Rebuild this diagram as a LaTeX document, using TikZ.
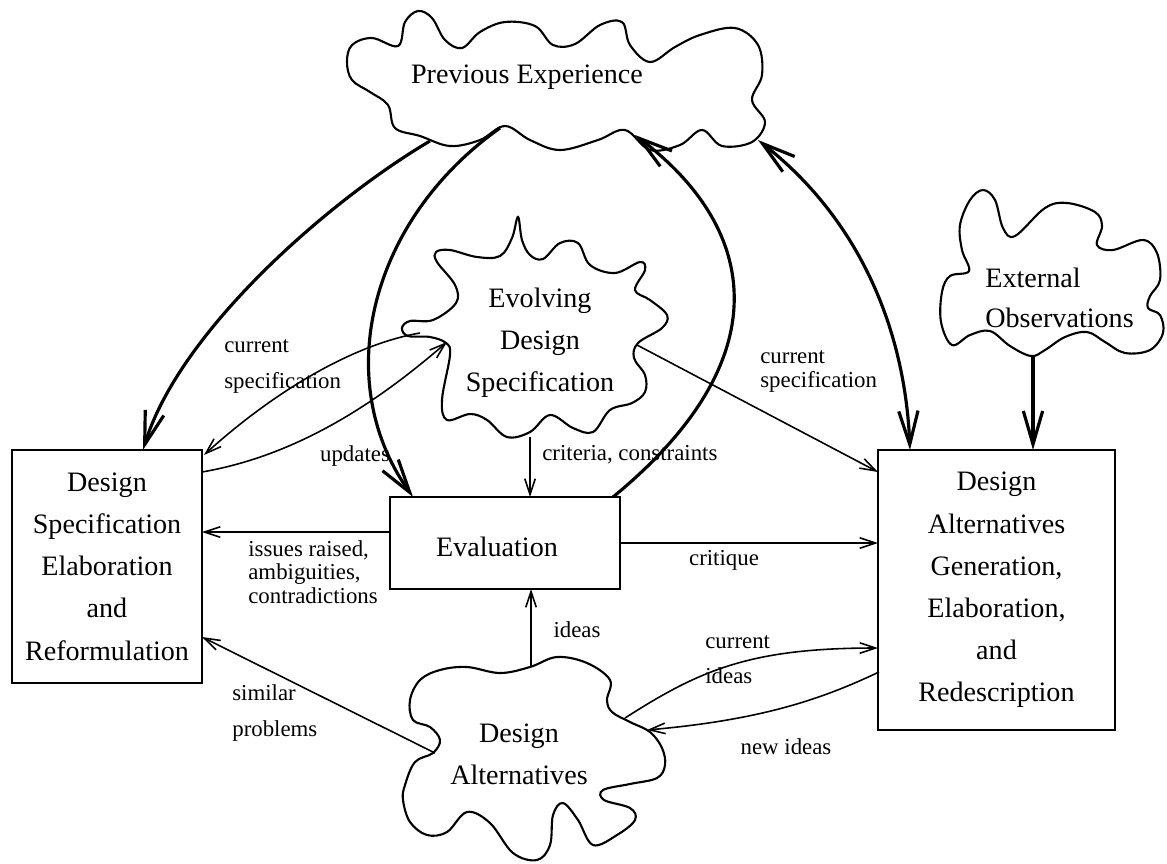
\documentclass[tikz,border=0pt]{standalone}
\usepackage{fontspec}
\setmainfont{Liberation Serif}
\usetikzlibrary{arrows.meta}
\begin{document}
\begin{tikzpicture}[x=0.02cm,y=-0.02cm,
  cloudline/.style={line width=1.2pt},
  boxnode/.style={draw, line width=0.9pt, align=center, inner sep=0pt, font=\fontsize{16}{24}\selectfont},
  txt/.style={align=center, inner sep=0pt, font=\fontsize{16}{24}\selectfont},
  lbl/.style={align=left, inner sep=0pt, font=\fontsize{13}{13.4}\selectfont},
  bigarrow/.style={line width=1.8pt, -{Straight Barb[length=19pt,width=11pt]}},
  bigboth/.style={line width=1.8pt, {Straight Barb[length=19pt,width=11pt]}-{Straight Barb[length=19pt,width=11pt]}},
  smallarrow/.style={line width=0.9pt, -{Straight Barb[length=9pt,width=6pt]}}]
\useasboundingbox (0,0) rectangle (1167,863);

% ---- clouds ----
\draw[cloudline] plot[smooth cycle, tension=0.6] coordinates {
 (347,62) (352,45) (372,38) (398,46) (405,22) (418,11) (432,18) (445,40) (462,48)
 (480,32) (505,22) (535,26) (553,45) (575,44) (600,25) (622,22) (630,45) (650,62)
 (675,47) (700,35) (735,28) (758,45) (762,75) (752,100) (765,122) (752,142) (722,146)
 (702,130) (680,145) (650,150) (625,130) (598,140) (560,150) (530,140) (505,126)
 (480,140) (450,146) (420,136) (395,128) (388,105) (370,92) (352,80)};
\node[txt] (PE) at (527,77) {Previous Experience};

\draw[cloudline] plot[smooth cycle, tension=0.6] coordinates {
 (518,217) (522,240) (530,255) (543,259) (560,243) (578,243) (590,265) (615,273)
 (640,262) (645,270) (635,290) (650,300) (667,315) (662,328) (638,343) (634,358)
 (645,375) (645,392) (632,403) (610,410) (593,432) (573,428) (550,415) (530,432)
 (507,437) (487,420) (470,414) (447,420) (442,400) (450,355) (446,343) (430,337)
 (408,336) (402,328) (410,321) (433,320) (456,303) (455,285) (437,262) (436,252)
 (450,250) (477,257) (500,256) (512,238)};
\node[txt] (EV) at (540,343) {Evolving\\Design\\Specification};

\draw[cloudline] plot[smooth cycle, tension=0.6] coordinates {
 (970,200) (983,190) (995,200) (1003,228) (1015,236) (1045,208) (1067,203) (1095,212)
 (1102,226) (1097,245) (1113,250) (1143,240) (1157,253) (1160,280) (1150,296)
 (1148,308) (1160,315) (1163,333) (1150,350) (1125,353) (1105,342) (1087,332)
 (1065,337) (1045,350) (1031,356) (1010,346) (990,331) (970,335) (952,345) (941,322)
 (942,292) (950,276) (969,271) (962,250) (960,225)};
\node[txt, align=left, anchor=west, font=\fontsize{16}{22.7}\selectfont] (EX) at (985,298) {External\\Observations};

\draw[cloudline] plot[smooth cycle, tension=0.6] coordinates {
 (530,667) (557,657) (587,663) (610,680) (607,700) (612,712) (630,722) (650,732)
 (662,748) (665,765) (657,778) (630,784) (603,790) (604,800) (630,808) (635,820)
 (617,835) (593,845) (578,820) (563,803) (553,815) (550,845) (537,860) (513,853)
 (490,823) (467,812) (447,832) (427,835) (410,822) (403,800) (405,785) (415,762)
 (433,753) (440,740) (430,727) (413,720) (410,700) (420,680) (440,670) (467,667)
 (500,673)};
\node[txt] (DA) at (519,754) {Design\\Alternatives};

% ---- boxes ----
\node[boxnode, minimum width=3.8cm, minimum height=4.66cm] (L) at (107,566.5)
  {Design\\Specification\\Elaboration\\and\\Reformulation};
\node[boxnode, minimum width=4.74cm, minimum height=5.6cm] (R) at (996.5,590)
  {Design\\Alternatives\\Generation,\\Elaboration,\\and\\Redescription};
\node[boxnode, minimum width=4.6cm, minimum height=1.84cm] (E) at (505,543) {};
\node[txt] (Et) at (497,547) {Evaluation};

% ---- connector end points ----
\coordinate (pe1) at (430,141);
\coordinate (pe2) at (500,128);
\coordinate (pe3) at (635,135);
\coordinate (pe4) at (758,140);
\coordinate (ev1) at (420,333);
\coordinate (ev2) at (447,342);
\coordinate (ev3) at (530,437);
\coordinate (ev4) at (637,345);
\coordinate (ex1) at (1033,356);
\coordinate (da1) at (531,667);
\coordinate (da2) at (625,718);
\coordinate (da3) at (647,730);
\coordinate (da4) at (435,753);
\coordinate (Lt1) at (143,450);
\coordinate (Lt2) at (204,455);
\coordinate (Lr1) at (202,472);
\coordinate (Lr2) at (202,532);
\coordinate (Lr3) at (202,637);
\coordinate (Et1) at (413,497);
\coordinate (Et2) at (530,497);
\coordinate (Et3) at (613,497);
\coordinate (El) at (390,532);
\coordinate (Er) at (620,543);
\coordinate (Eb) at (531,589);
\coordinate (Rt1) at (910,450);
\coordinate (Rt2) at (1033,450);
\coordinate (Rl1) at (878,472);
\coordinate (Rl2) at (878,543);
\coordinate (Rl3) at (878,648);
\coordinate (Rl4) at (879,672);

% ---- connectors ----
\draw[bigarrow] (pe1) .. controls (330,200) and (180,330) .. (Lt1);
\draw[bigarrow] (pe2) .. controls (370,220) and (330,380) .. (Et1);
\draw[bigarrow] (Et3) .. controls (780,360) and (760,230) .. (pe3);
\draw[bigboth] (pe4) .. controls (860,220) and (905,330) .. (Rt1);
\draw[bigarrow] (ex1) -- (Rt2);

\draw[smallarrow] (ev1) .. controls (350,345) and (270,395) .. (Lt2);
\draw[smallarrow] (Lr1) .. controls (300,455) and (380,400) .. (ev2);
\draw[smallarrow] (ev4) -- (Rl1);
\draw[smallarrow] (ev3) -- (Et2);
\draw[smallarrow] (El) -- (Lr2);
\draw[smallarrow] (Er) -- (Rl2);
\draw[smallarrow] (da1) -- (Eb);
\draw[smallarrow] (da2) .. controls (700,670) and (750,648) .. (Rl3);
\draw[smallarrow] (Rl4) .. controls (820,700) and (760,720) .. (da3);
\draw[smallarrow] (da4) -- (Lr3);

% ---- labels ----
\node[lbl, anchor=west, font=\fontsize{13}{21}\selectfont] (l1) at (224,366.5) {current\\specification};
\node[lbl, anchor=west] (l2) at (760,371.5) {current\\specification};
\node[lbl] (l3) at (355,456) {updates};
\node[lbl, anchor=west] (l4) at (542,455) {criteria, constraints};
\node[lbl, anchor=west] (l5) at (248,572) {issues raised,\\ambiguities,\\contradictions};
\node[lbl] (l6) at (724,560) {critique};
\node[lbl] (l7) at (577,630) {ideas};
\node[lbl, anchor=west, font=\fontsize{13}{20}\selectfont] (l8) at (705,659.5) {current\\ideas};
\node[lbl] (l9) at (786,747) {new ideas};
\node[lbl, anchor=west, font=\fontsize{13}{20}\selectfont] (l10) at (232,713) {similar\\problems};
\end{tikzpicture}
\end{document}
